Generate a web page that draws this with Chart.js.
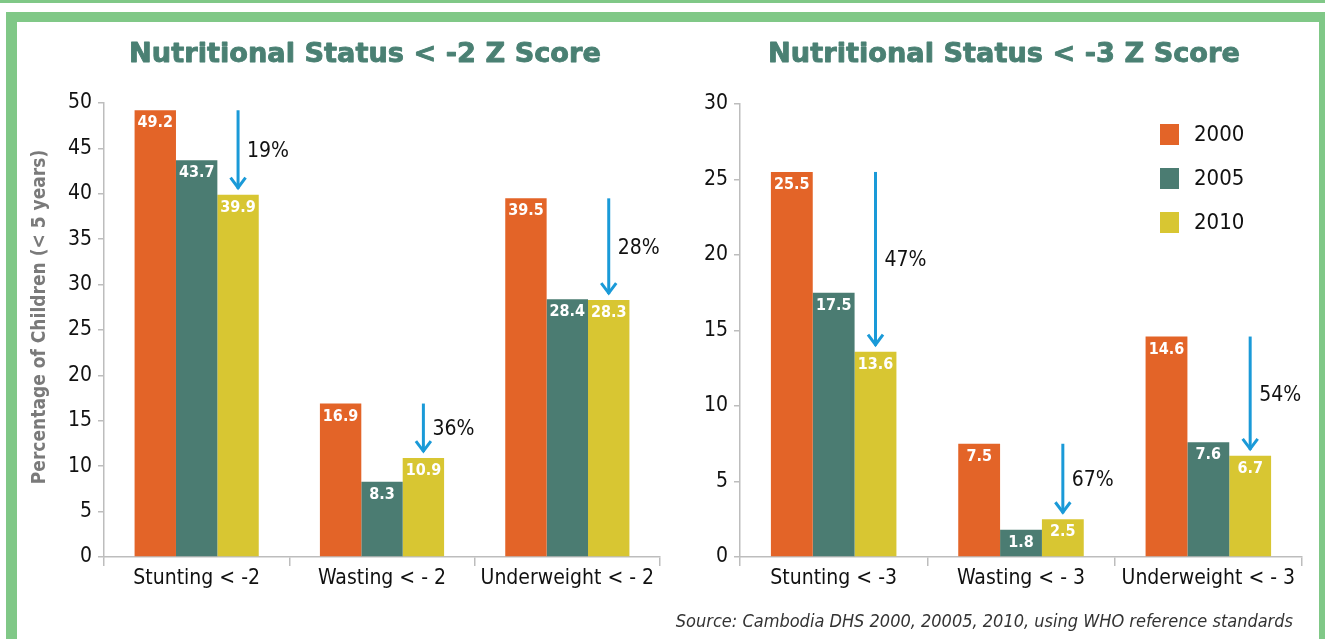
<!DOCTYPE html>
<html><head><meta charset="utf-8">
<script src="https://cdn.jsdelivr.net/npm/chart.js@4/dist/chart.umd.min.js"></script>
<style>
html,body{margin:0;padding:0;}
body{width:1325px;height:639px;overflow:hidden;background:#fff;position:relative;}
#topline{position:absolute;left:0;top:0;width:1325px;height:3px;background:#80c887;}
#frame{position:absolute;left:6px;top:12px;width:1302px;height:700px;border:11px solid #80c887;border-top-width:10px;background:#fff;}
canvas{position:absolute;top:0;}
#c1{left:0;}
#c2{left:690px;}
#legend{position:absolute;left:1160px;top:124px;font-family:'DejaVu Sans Condensed',sans-serif;font-size:22px;color:#111;}
.li{position:relative;height:44px;}
.sw{position:absolute;left:0;top:0;width:19px;height:21px;}
.lt{position:absolute;left:34px;top:-5px;line-height:30px;}
#source{position:absolute;right:32px;top:610px;font-family:'DejaVu Sans Condensed',sans-serif;font-style:italic;font-size:18px;color:#333;white-space:nowrap;}
</style></head>
<body>
<div id="topline"></div>
<div id="frame"></div>
<canvas id="c1" width="690" height="639"></canvas>
<canvas id="c2" width="635" height="639"></canvas>
<div id="legend"></div>
<div id="source">Source: Cambodia DHS 2000, 20005, 2010, using WHO reference standards</div>
<script>
// ---- data ----
const years = ['2000', '2005', '2010'];
const colors = ['#e36428', '#4b7c72', '#d8c632'];

const title1 = 'Nutritional Status < -2 Z Score';
const categories1 = ['Stunting < -2', 'Wasting < - 2', 'Underweight < - 2'];
const y2000a = [49.2, 16.9, 39.5];
const y2005a = [43.7, 8.3, 28.4];
const y2010a = [39.9, 10.9, 28.3];
const change1 = ['19%', '36%', '28%'];
const yTicks1 = [0, 5, 10, 15, 20, 25, 30, 35, 40, 45, 50];

const title2 = 'Nutritional Status < -3 Z Score';
const categories2 = ['Stunting < -3', 'Wasting < - 3', 'Underweight < - 3'];
const y2000b = [25.5, 7.5, 14.6];
const y2005b = [17.5, 1.8, 7.6];
const y2010b = [13.6, 2.5, 6.7];
const change2 = ['47%', '67%', '54%'];
const yTicks2 = [0, 5, 10, 15, 20, 25, 30];

const yAxisTitle = 'Percentage of Children (< 5 years)';

// ---- styling ----
const NARROW = "'DejaVu Sans Condensed','DejaVu Sans',sans-serif";
const TITLE_FAMILY = "'DejaVu Sans',sans-serif";
const TITLE_WIDTH = 474;
const TEAL = '#4a8073';
const ARROW = '#1a9ad8';
const AXIS = '#bdbdbd';

const valueLabels = {
  id: 'valueLabels',
  afterDatasetsDraw(chart) {
    const ctx = chart.ctx;
    ctx.save();
    ctx.font = 'bold 16px ' + NARROW;
    ctx.fillStyle = '#ffffff';
    ctx.textAlign = 'center';
    ctx.textBaseline = 'top';
    chart.data.datasets.forEach((ds, di) => {
      chart.getDatasetMeta(di).data.forEach((bar, i) => {
        ctx.fillText(ds.data[i].toFixed(1), bar.x, bar.y + 5);
      });
    });
    ctx.restore();
  }
};

const arrows = {
  id: 'arrows',
  afterDatasetsDraw(chart, args, opts) {
    const ctx = chart.ctx;
    const y = chart.scales.y;
    const first = chart.data.datasets[0].data;
    const last = chart.data.datasets[2].data;
    const meta = chart.getDatasetMeta(2);
    ctx.save();
    opts.labels.forEach((lab, i) => {
      const x = meta.data[i].x;
      const y0 = y.getPixelForValue(first[i]);
      const y1 = y.getPixelForValue(last[i]) - 6;
      ctx.strokeStyle = ARROW;
      ctx.lineWidth = 3;
      ctx.beginPath();
      ctx.moveTo(x, y0);
      ctx.lineTo(x, y1);
      ctx.stroke();
      ctx.beginPath();
      ctx.moveTo(x - 7.5, y1 - 11);
      ctx.lineTo(x, y1 - 1);
      ctx.lineTo(x + 7.5, y1 - 11);
      ctx.stroke();
      ctx.fillStyle = '#111';
      ctx.font = '21px ' + NARROW;
      ctx.textAlign = 'left';
      ctx.textBaseline = 'middle';
      ctx.fillText(lab, x + 9, (y0 + y1) / 2 + 2);
    });
    ctx.restore();
  }
};

const chartTitle = {
  id: 'chartTitle',
  afterDraw(chart, args, opts) {
    const ctx = chart.ctx;
    const a = chart.chartArea;
    ctx.save();
    ctx.font = 'bold 27px ' + TITLE_FAMILY;
    const w = ctx.measureText(opts.text).width;
    const size = 27 * (TITLE_WIDTH - 2) / w;
    ctx.font = 'bold ' + size.toFixed(2) + 'px ' + TITLE_FAMILY;
    ctx.fillStyle = TEAL;
    ctx.strokeStyle = TEAL;
    ctx.lineWidth = 0.9;
    ctx.lineJoin = 'round';
    ctx.textAlign = 'center';
    ctx.textBaseline = 'middle';
    const cx = (a.left + a.right) / 2 - 17;
    ctx.strokeText(opts.text, cx, 55);
    ctx.fillText(opts.text, cx, 55);
    if (opts.yTitle) {
      ctx.translate(40, 317);
      ctx.rotate(-Math.PI / 2);
      ctx.font = 'bold 19px ' + NARROW;
      ctx.fillStyle = '#7a7a7a';
      ctx.fillText(opts.yTitle, 0, 0);
    }
    ctx.restore();
  }
};

function makeChart(id, cats, s1, s2, s3, ticks, title, changes, yWidth, pad, yTitle) {
  const maxV = ticks[ticks.length - 1];
  return new Chart(document.getElementById(id), {
    type: 'bar',
    data: {
      labels: cats,
      datasets: [s1, s2, s3].map((d, i) => ({
        label: years[i], data: d, backgroundColor: colors[i], borderWidth: 0
      }))
    },
    options: {
      responsive: false,
      animation: false,
      events: [],
      categoryPercentage: 0.67,
      barPercentage: 1.0,
      layout: { padding: pad },
      plugins: {
        legend: { display: false },
        tooltip: { enabled: false },
        chartTitle: { text: title, yTitle: yTitle },
        arrows: { labels: changes }
      },
      scales: {
        x: {
          grid: { offset: true, drawOnChartArea: false, color: AXIS, tickLength: 9, lineWidth: 1.5 },
          border: { color: AXIS, width: 1.5 },
          ticks: { color: '#111', font: { family: NARROW, size: 21 }, padding: 0, maxRotation: 0, autoSkip: false },
          afterFit(s) { s.height = 639 - 557; }
        },
        y: {
          min: 0, max: maxV,
          afterBuildTicks(s) { s.ticks = ticks.map(v => ({ value: v })); },
          grid: { drawOnChartArea: false, color: AXIS, tickLength: 6, lineWidth: 1.5 },
          border: { color: AXIS, width: 1.5 },
          ticks: { color: '#111', font: { family: NARROW, size: 21 }, padding: 6 },
          afterFit(s) { s.width = yWidth; }
        }
      }
    },
    plugins: [valueLabels, arrows, chartTitle]
  });
}

makeChart('c1', categories1, y2000a, y2005a, y2010a, yTicks1, title1, change1, 104,
  { top: 103, right: 30, bottom: 0, left: 0 }, yAxisTitle);
makeChart('c2', categories2, y2000b, y2005b, y2010b, yTicks2, title2, change2, 50,
  { top: 104, right: 23, bottom: 0, left: 0 }, null);

// legend
const lg = document.getElementById('legend');
years.forEach((y, i) => {
  const d = document.createElement('div');
  d.className = 'li';
  d.innerHTML = '<div class="sw" style="background:' + colors[i] + '"></div><div class="lt">' + y + '</div>';
  lg.appendChild(d);
});
</script>
</body></html>
